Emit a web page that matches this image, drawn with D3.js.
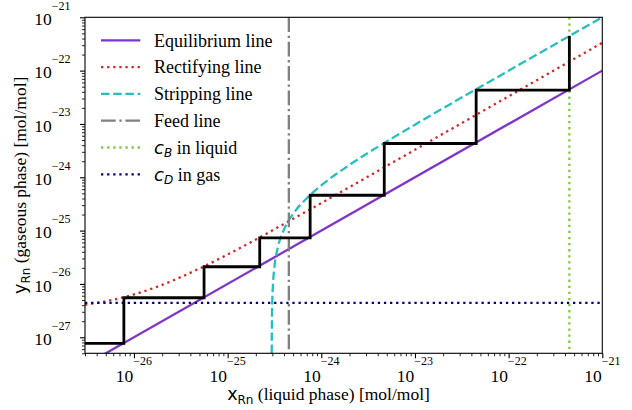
<!DOCTYPE html>
<html><head><meta charset="utf-8">
<script src="https://cdn.jsdelivr.net/npm/d3@7"></script>
<style>body{margin:0;background:#fff}svg{display:block}</style>
</head><body><svg id="c" width="632" height="410"></svg>
<script>
// ---- data ----
const xDomain = [3e-27, 1e-21];
const yDomain = [5e-28, 1e-21];
const xTickExponents = [-26, -25, -24, -23, -22, -21];
const yTickExponents = [-27, -26, -25, -24, -23, -22, -21];

const equilibriumX = [3e-27, 1e-21];
const equilibriumY = [3e-28, 1e-22];

const rectifyingX = [3e-27, 5e-27, 7e-27, 1e-26, 1.5e-26, 2e-26, 3e-26, 5e-26, 1e-25, 2e-25, 5e-25, 1e-24, 1e-23, 1e-22, 1e-21];
const rectifyingY = [4.08e-27, 4.73e-27, 5.38e-27, 6.35e-27, 7.98e-27, 9.6e-27, 1.29e-26, 1.94e-26, 3.56e-26, 6.81e-26, 1.66e-25, 3.28e-25, 3.28e-24, 3.3e-23, 3.33e-22];

const strippingX = [2.955e-25, 2.97e-25, 3.0e-25, 3.05e-25, 3.15e-25, 3.45e-25, 3.95e-25, 5e-25, 7e-25, 1e-24, 2e-24, 5e-24, 1e-23, 1e-22, 1e-21];
const strippingY = [5e-28, 2e-27, 5e-27, 1e-26, 2e-26, 5e-26, 1e-25, 2.05e-25, 4.05e-25, 7.05e-25, 1.7e-24, 4.7e-24, 9.7e-24, 9.97e-23, 1e-21];

const feedX = 4.5e-25;
const cB = 4.45e-22;
const cD = 4.4e-27;

const stageX = [7.8e-27, 5.6e-26, 2.2e-25, 7.6e-25, 4.7e-24, 4.5e-23, 4.45e-22];
const stageY = [7.7e-28, 5.5e-27, 2.1e-26, 7.3e-26, 4.6e-25, 4.3e-24, 4.3e-23, 4.46e-22];

const legendLabels = ["Equilibrium line", "Rectifying line", "Stripping line", "Feed line", "c_B in liquid", "c_D in gas"];

// ---- layout ----
const L = 85, R = 602.3, T = 17.3, B = 353.3;
const FS = 17.5, SUP = 12;
const SERIF = '"Liberation Serif"';
const SANS = '"DejaVu Sans"';

const styles = {
  eq:   {color: "#7f35c9", dash: null},
  rect: {color: "#d62728", dash: "2.3,3.8"},
  strip:{color: "#25bfbf", dash: "8.5,3.7"},
  feed: {color: "#808080", dash: "14.7,3.7,2.3,3.7"},
  cb:   {color: "#82c83c", dash: "2.3,3.8"},
  cd:   {color: "#00008b", dash: "2.3,3.8"}
};
const LW = 2.3;

const svg = d3.select("#c");
const x = d3.scaleLog().domain(xDomain).range([L, R]);
const y = d3.scaleLog().domain(yDomain).range([B, T]);

svg.append("defs").append("clipPath").attr("id", "clip")
  .append("rect").attr("x", L).attr("y", T).attr("width", R - L).attr("height", B - T);

const plot = svg.append("g").attr("clip-path", "url(#clip)");

function styled(sel, st, w) {
  sel.attr("fill", "none").attr("stroke", st.color).attr("stroke-width", w || LW);
  if (st.dash) sel.attr("stroke-dasharray", st.dash);
  return sel;
}

const line = d3.line().x(d => x(d[0])).y(d => y(d[1]));
const curve = d3.line().x(d => x(d[0])).y(d => y(d[1])).curve(d3.curveMonotoneX);

styled(plot.append("path").attr("d", line(d3.zip(equilibriumX, equilibriumY))), styles.eq);
styled(plot.append("path").attr("d", curve(d3.zip(rectifyingX, rectifyingY))), styles.rect);
styled(plot.append("path").attr("d", curve(d3.zip(strippingX, strippingY))), styles.strip);
styled(plot.append("line").attr("x1", x(feedX)).attr("x2", x(feedX)).attr("y1", T).attr("y2", B), styles.feed);
styled(plot.append("line").attr("x1", x(cB)).attr("x2", x(cB)).attr("y1", T).attr("y2", B), styles.cb);
styled(plot.append("line").attr("x1", L).attr("x2", R).attr("y1", y(cD)).attr("y2", y(cD)), styles.cd);

// staircase
const steps = [[xDomain[0], stageY[0]]];
stageX.forEach((sx, i) => { steps.push([sx, stageY[i]]); steps.push([sx, stageY[i + 1]]); });
plot.append("path").attr("d", line(steps)).attr("fill", "none")
  .attr("stroke", "#000").attr("stroke-width", 2.8).attr("stroke-linejoin", "miter");

// ---- axes ----
const xMajor = xTickExponents.map(e => Math.pow(10, e));
const yMajor = yTickExponents.map(e => Math.pow(10, e));
function minors(dom) {
  const out = [];
  for (let e = -29; e <= -21; e++) for (let m = 2; m <= 9; m++) {
    const v = m * Math.pow(10, e);
    if (v >= dom[0] * 0.999 && v <= dom[1] * 1.001) out.push(v);
  }
  return out;
}
function styleAxis(g) {
  g.select(".domain").remove();
  g.selectAll(".tick line").attr("stroke", "#000");
}
svg.append("g").attr("transform", `translate(0,${B})`)
  .call(d3.axisBottom(x).tickValues(minors(xDomain)).tickSize(3).tickFormat(""))
  .call(styleAxis).selectAll(".tick line").attr("stroke-width", 0.85);
svg.append("g").attr("transform", `translate(0,${B})`)
  .call(d3.axisBottom(x).tickValues(xMajor).tickSize(5).tickFormat(""))
  .call(styleAxis).selectAll(".tick line").attr("stroke-width", 1.1);
svg.append("g").attr("transform", `translate(${L},0)`)
  .call(d3.axisLeft(y).tickValues(minors(yDomain)).tickSize(3).tickFormat(""))
  .call(styleAxis).selectAll(".tick line").attr("stroke-width", 0.85);
svg.append("g").attr("transform", `translate(${L},0)`)
  .call(d3.axisLeft(y).tickValues(yMajor).tickSize(5).tickFormat(""))
  .call(styleAxis).selectAll(".tick line").attr("stroke-width", 1.1);

// tick labels
function powLabel(g, e, rise) {
  g.append("tspan").text("10");
  g.append("tspan").style("font-size", SUP + "px").attr("dy", -rise).text("\u2212" + Math.abs(e));
}
function serifText() {
  return svg.append("text").style("font-family", SERIF).style("font-size", FS + "px").attr("fill", "#000");
}
xTickExponents.forEach(e => {
  const t = serifText().attr("x", x(Math.pow(10, e))).attr("y", 381.7).attr("text-anchor", "middle");
  powLabel(t, e, 16.3);
});
yTickExponents.forEach(e => {
  const t = serifText().attr("x", 70.5).attr("y", y(Math.pow(10, e)) + 7.7).attr("text-anchor", "end");
  powLabel(t, e, 15.3);
});

// frame
svg.append("rect").attr("x", L).attr("y", T).attr("width", R - L).attr("height", B - T)
  .attr("fill", "none").attr("stroke", "#000").attr("stroke-width", 1.1);

// axis labels
const xl = serifText().attr("x", 328.5).attr("y", 400).attr("text-anchor", "middle");
xl.append("tspan").style("font-family", SANS).text("x");
xl.append("tspan").style("font-family", SANS).style("font-size", SUP + "px").attr("dy", 4).text("Rn");
xl.append("tspan").attr("dy", -4).text(" (liquid phase) [mol/mol]");

const yl = serifText().attr("transform", "translate(25.5,185.3) rotate(-90)").attr("text-anchor", "middle");
yl.append("tspan").style("font-family", SANS).text("y");
yl.append("tspan").style("font-family", SANS).style("font-size", SUP + "px").attr("dy", 4).text("Rn");
yl.append("tspan").attr("dy", -4).text(" (gaseous phase) [mol/mol]");

// legend
const legendStyles = [styles.eq, styles.rect, styles.strip, styles.feed, styles.cb, styles.cd];
legendLabels.forEach((lab, i) => {
  const ly = 40.3 + i * 26.8;
  styled(svg.append("line").attr("x1", 101).attr("x2", 140.3).attr("y1", ly).attr("y2", ly), legendStyles[i]);
  const t = serifText().style("font-size", "18px").attr("x", 154).attr("y", ly + 6.2);
  const m = lab.match(/^c_(\w) (.*)$/);
  if (m) {
    t.append("tspan").style("font-family", SANS).style("font-style", "italic").text("c");
    t.append("tspan").style("font-family", SANS).style("font-style", "italic").style("font-size", SUP + "px").attr("dy", 3.5).text(m[1]);
    t.append("tspan").attr("dy", -3.5).text(" " + m[2]);
  } else {
    t.text(lab);
  }
});
</script></body></html>
